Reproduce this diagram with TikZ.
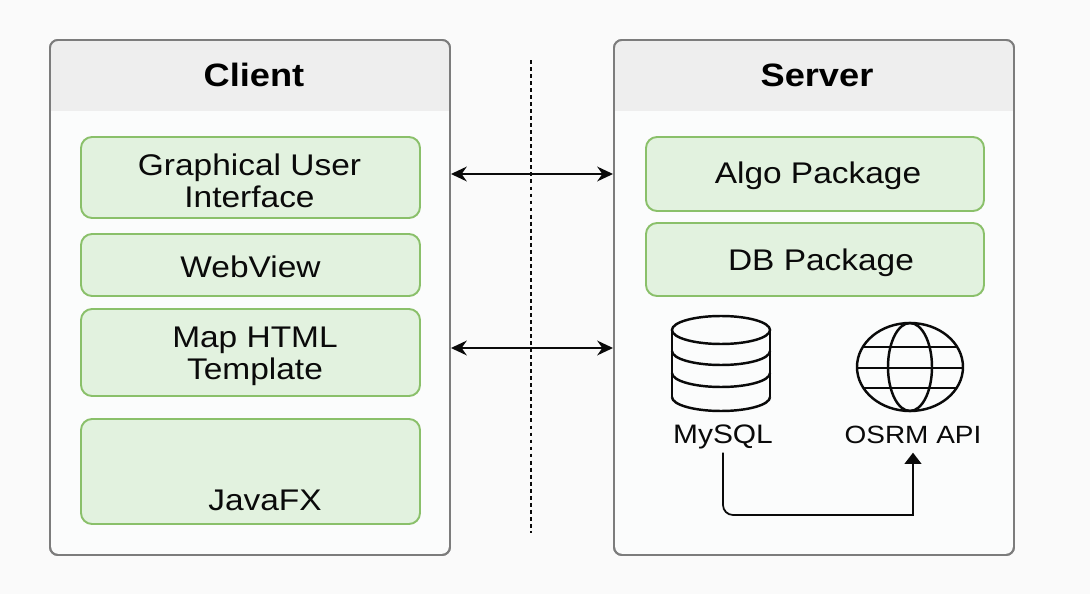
\documentclass[tikz,border=0pt]{standalone}
\usepackage{fontspec}
\setmainfont[FakeStretch=1.12]{Liberation Sans}
\usetikzlibrary{arrows.meta}
\definecolor{pagefill}{HTML}{FAFAFA}
\definecolor{panelfill}{HTML}{FBFCFC}
\definecolor{panelline}{HTML}{7C7C7C}
\definecolor{headfill}{HTML}{EEEEEE}
\definecolor{boxfill}{HTML}{E2F2DF}
\definecolor{boxline}{HTML}{8AC06A}
\definecolor{inkcol}{HTML}{0A0A0A}
\tikzset{
	panelbox/.style={draw=panelline, fill=panelfill, line width=0.55pt, rounded corners=0.08cm, minimum width=4cm, minimum height=5.15cm, inner sep=0pt},
	greenbox/.style={draw=boxline, fill=boxfill, line width=0.55pt, rounded corners=0.11cm, minimum width=3.39cm, inner sep=0pt},
	boxtext/.style={inner sep=0pt, align=center, yshift=-0.03cm, text=inkcol, font=\fontsize{8.5}{9.1}\selectfont},
	headtext/.style={text=black, font=\fontsize{9.2}{10}\selectfont\bfseries},
	icontext/.style={text=inkcol, inner sep=0.04cm, text height=0.21cm, text depth=0.05cm, font=\fontsize{7.6}{9.1}\selectfont},
	iconline/.style={draw=inkcol, line width=0.7pt},
	linkarrow/.style={draw=inkcol, line width=0.6pt, {Stealth[length=4.5pt,width=4.2pt]}-{Stealth[length=4.5pt,width=4.2pt]}},
	flowarrow/.style={draw=inkcol, line width=0.5pt, -{Triangle[length=3.2pt,width=4.8pt]}}
}

\begin{document}
\begin{tikzpicture}
	%%%%% PAGE %%%%%
	\fill[pagefill] (0, 0) rectangle (10.9, 5.94);
	\useasboundingbox (0, 0) rectangle (10.9, 5.94);

	%%%%% CLIENT %%%%%
	\node[panelbox] (client) at (2.5, 2.965) {};
	\begin{scope}
		\clip[rounded corners=0.08cm] (0.5, 0.39) rectangle (4.5, 5.54);
		\fill[headfill] (0.5, 4.83) rectangle (4.5, 5.54);
	\end{scope}
	\draw[draw=panelline, line width=0.55pt, rounded corners=0.08cm] (0.5, 0.39) rectangle (4.5, 5.54);
	\node[headtext] (clienttitle) at (2.54, 5.19) {Client};
	\node[greenbox, minimum height=0.81cm] (gui) at (2.505, 4.165) {};
	\node[boxtext] (guilabel) at (2.495, 4.165) {Graphical User\\Interface};
	\node[greenbox, minimum height=0.62cm] (webview) at (2.505, 3.29) {};
	\node[boxtext, yshift=0.01cm] (webviewlabel) at (2.505, 3.29) {WebView};
	\node[greenbox, minimum height=0.87cm] (maphtml) at (2.505, 2.415) {};
	\node[boxtext, yshift=-0.01cm] (maplabel) at (2.55, 2.415) {Map HTML\\Template};
	\node[greenbox, minimum height=1.05cm] (javafx) at (2.505, 1.225) {};
	\node[icontext, font=\fontsize{8.5}{9.1}\selectfont] (javafxlabel) at (2.65, 0.91) {JavaFX};

	%%%%% SERVER %%%%%
	\node[panelbox] (server) at (8.14, 2.965) {};
	\begin{scope}
		\clip[rounded corners=0.08cm] (6.14, 0.39) rectangle (10.14, 5.54);
		\fill[headfill] (6.14, 4.83) rectangle (10.14, 5.54);
	\end{scope}
	\draw[draw=panelline, line width=0.55pt, rounded corners=0.08cm] (6.14, 0.39) rectangle (10.14, 5.54);
	\node[headtext] (servertitle) at (8.17, 5.19) {Server};
	\node[greenbox, minimum width=3.38cm, minimum height=0.74cm] (algo) at (8.15, 4.2) {};
	\node[boxtext, yshift=0.01cm] (algolabel) at (8.18, 4.2) {Algo Package};
	\node[greenbox, minimum width=3.38cm, minimum height=0.73cm] (db) at (8.15, 3.345) {};
	\node[boxtext] (dblabel) at (8.21, 3.345) {DB Package};

	%%%%% MYSQL ICON %%%%%
	\draw[iconline] (6.72, 2.64) -- (6.72, 1.97);
	\draw[iconline] (7.7, 2.64) -- (7.7, 1.97);
	\draw[iconline] (7.21, 2.64) ellipse (0.49 and 0.14);
	\draw[iconline] (6.72, 2.43) arc (180:360:0.49 and 0.14);
	\draw[iconline] (6.72, 2.21) arc (180:360:0.49 and 0.14);
	\draw[iconline] (6.72, 1.97) arc (180:360:0.49 and 0.14);

	%%%%% OSRM ICON %%%%%
	\draw[iconline] (9.1, 2.27) ellipse (0.53 and 0.44);
	\draw[iconline] (9.1, 2.27) ellipse (0.22 and 0.44);
	\draw[iconline] (8.57, 2.26) -- (9.63, 2.26);
	\draw[iconline] (8.63, 2.47) -- (9.57, 2.47);
	\draw[iconline] (8.63, 2.06) -- (9.57, 2.06);

	\node[icontext] (mysql) at (7.23, 1.59) {MySQL};
	\node[icontext, font=\fontsize{7.1}{9.1}\selectfont] (osrm) at (9.13, 1.59) {OSRM API};

	%%%%% LINKS %%%%%
	\draw[dash pattern=on 1.1pt off 0.9pt, line width=0.35pt, draw=inkcol] (5.31, 5.34) -- (5.31, 0.61);
	\coordinate (linkb) at (5.31, 2.46);
	\draw[linkarrow] (client.east |- algo) -- (server.west |- algo);
	\draw[linkarrow] (client.east |- linkb) -- (server.west |- linkb);

	\coordinate (bendleft) at (7.23, 0.79);
	\coordinate (bendright) at (9.13, 0.79);
	\draw[flowarrow] [rounded corners=0.1cm] (mysql.south) -- (bendleft) [sharp corners] -- (bendright) -- (osrm.south);
\end{tikzpicture}
\end{document}
